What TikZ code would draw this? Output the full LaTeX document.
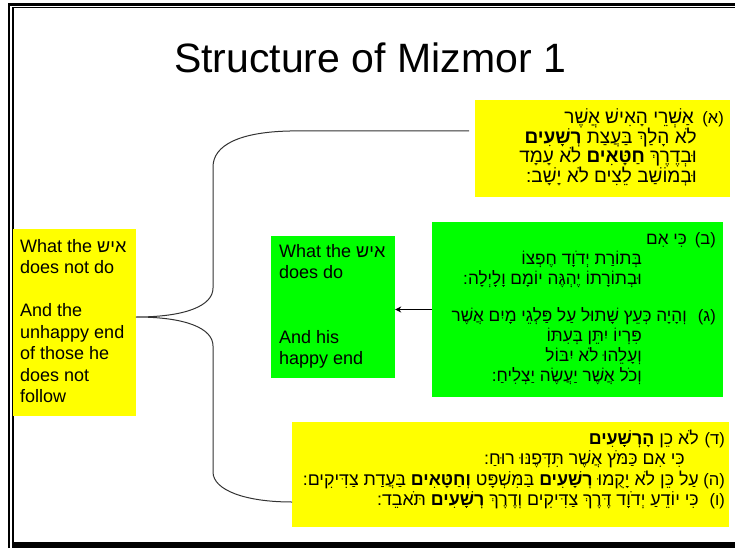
\documentclass[tikz,border=0pt]{standalone}
\usepackage{fontspec}
\setmainfont{Liberation Sans}
\newfontfamily\hebfont[Script=Hebrew]{Liberation Sans}
\TeXXeTstate=1
\usepackage{xcolor}
\usetikzlibrary{arrows.meta,positioning}
\definecolor{slideyellow}{HTML}{FFFF00}
\definecolor{slidegreen}{HTML}{00FF00}
\definecolor{bracegray}{HTML}{333333}
\newcommand{\heb}[1]{{\hebfont\beginR #1\endR}}

\begin{document}
\begin{tikzpicture}[x=1pt,y=-1pt,>={Stealth[length=6pt,width=6pt]},
  ybox/.style={fill=slideyellow,inner sep=0pt},
  gbox/.style={fill=slidegreen,inner sep=0pt},
  hebline/.style={anchor=base east,inner sep=0pt,font=\hebfont\fontsize{#1}{20}\selectfont},
  hebline/.default=17.8,
  versenum/.style={anchor=base east,inner sep=0pt,font=\hebfont\fontsize{16.5}{20}\selectfont},
  sidetext/.style={anchor=north west,inner sep=0pt,align=left,font=\fontsize{18}{21.5}\selectfont}]
\useasboundingbox (0,0) rectangle (735,548);
\draw[line width=2.2pt] (9,548) -- (9,4.5) -- (735,4.5);
\draw[line width=1.3pt] (13,543) -- (13,7.8) -- (735,7.8);
\fill (11.5,542.3) rectangle (735,548);
\node[anchor=base,inner sep=0pt,font=\fontsize{41}{49}\selectfont] (title) at (370,73) {Structure of Mizmor 1};

\node[ybox,minimum width=123,minimum height=187] (sideA) at (74.5,322.5) {};
\node[ybox,minimum width=255,minimum height=97] (verseA) at (602.5,148.5) {};
\node[gbox,minimum width=291,minimum height=175] (verseBC) at (577.5,309.5) {};
\node[gbox,minimum width=124,minimum height=142] (doesDo) at (333,307) {};
\node[ybox,minimum width=437,minimum height=105] (verseD) at (510.5,474.5) {};

\node[sidetext] (sideAtxt) at (20,239) {What the \heb{איש}\\does not do\\[21.5pt]And the\\unhappy end\\of those he\\does not\\follow};
\node[sidetext] (doesDotxt) at (279,244) {What the \heb{איש}\\does do\\[43pt]And his\\happy end};

\node[versenum] (numA) at (724,124) {(א)};
\node[hebline=19] (a1) at (694,124) {\heb{אַשְׁרֵי הָאִישׁ אֲשֶׁר}};
\node[hebline=19] (a2) at (697,143.5) {\heb{לֹא הָלַךְ בַּעֲצַת \textbf{רְשָׁעִים}}};
\node[hebline=19] (a3) at (697,163) {\heb{וּבְדֶרֶךְ \textbf{חַטָּאִים} לֹא עָמָד}};
\node[hebline=19] (a4) at (697,182.5) {\heb{וּבְמוֹשַׁב לֵצִים לֹא יָשָׁב:}};

\node[versenum] (numB) at (716,244) {(ב)};
\node[hebline=17.2] (b1) at (687,244) {\heb{כִּי אִם}};
\node[hebline=17.2] (b2) at (642,264) {\heb{בְּתוֹרַת יְדֹוָד חֶפְצוֹ}};
\node[hebline=17.2] (b3) at (642,284) {\heb{וּבְתוֹרָתוֹ יֶהְגֶּה יוֹמָם וָלָיְלָה:}};
\node[versenum] (numC) at (716,321) {(ג)};
\node[hebline=17.2] (c1) at (687,321) {\heb{וְהָיָה כְּעֵץ שָׁתוּל עַל פַּלְגֵי מָיִם אֲשֶׁר}};
\node[hebline=17.2] (c2) at (642,341) {\heb{פִּרְיוֹ יִתֵּן בְּעִתּוֹ}};
\node[hebline=17.2] (c3) at (642,361) {\heb{וְעָלֵהוּ לֹא יִבּוֹל}};
\node[hebline=17.2] (c4) at (642,381) {\heb{וְכֹל אֲשֶׁר יַעֲשֶׂה יַצְלִיחַ:}};

\node[versenum] (numD) at (725,444) {(ד)};
\node[hebline] (d1) at (699,444) {\heb{לֹא כֵן \textbf{הָרְשָׁעִים}}};
\node[hebline] (d2) at (685,464.5) {\heb{כִּי אִם כַּמֹּץ אֲשֶׁר תִּדְּפֶנּוּ רוּחַ:}};
\node[versenum] (numE) at (725,485) {(ה)};
\node[hebline] (e1) at (699,485) {\heb{עַל כֵּן לֹא יָקֻמוּ \textbf{רְשָׁעִים} בַּמִּשְׁפָּט \textbf{וְחַטָּאִים} בַּעֲדַת צַדִּיקִים:}};
\node[versenum] (numF) at (725,505.5) {(ו)};
\node[hebline] (f1) at (699,505.5) {\heb{כִּי יוֹדֵעַ יְדֹוָד דֶּרֶךְ צַדִּיקִים וְדֶרֶךְ \textbf{רְשָׁעִים} תֹּאבֵד:}};

\coordinate (armtop) at (469,131);
\coordinate (tip) at (136,317);
\coordinate (armbot) at (292,502);
\draw[bracegray,line width=1pt] (armtop) -- (290,131) .. controls (240,132) and (213,145) .. (213,167)
  -- (213,288) .. controls (213,306) and (185,317) .. (tip)
  .. controls (185,317) and (213,328) .. (213,346)
  -- (213,472) .. controls (213,490) and (245,502) .. (armbot);
\draw[->,line width=1.4pt] (verseBC.west) -- (verseBC.west -| doesDo.east);
\end{tikzpicture}
\end{document}
